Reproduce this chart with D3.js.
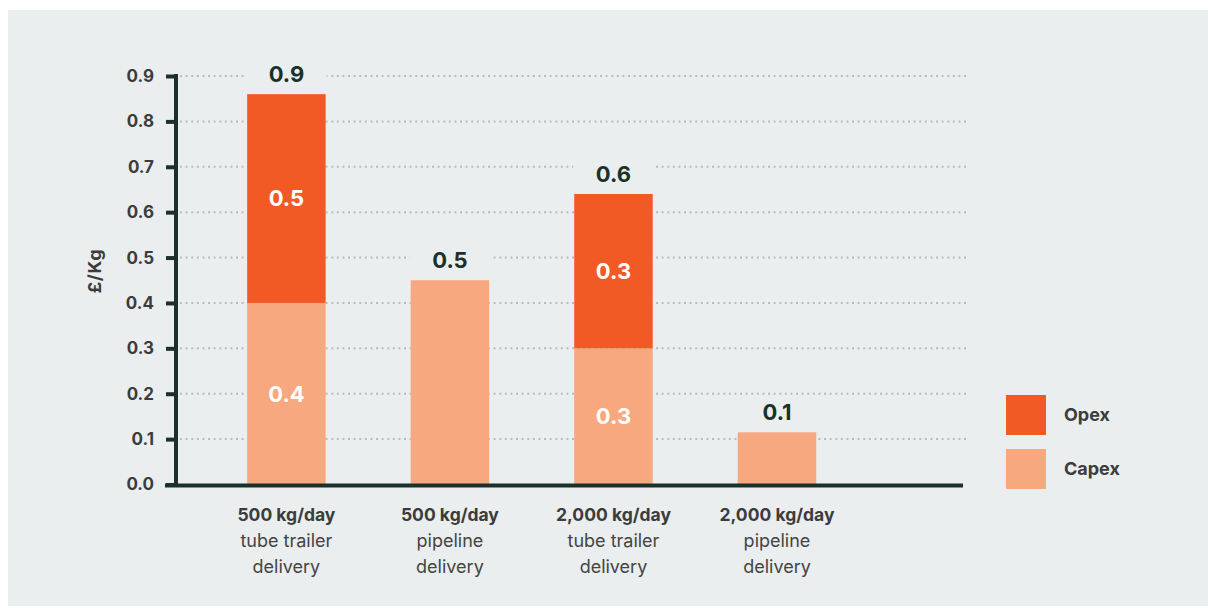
<!DOCTYPE html>
<html>
<head>
<meta charset="utf-8">
<script src="https://cdn.jsdelivr.net/npm/d3@7/dist/d3.min.js"></script>
<style>
  html, body { margin: 0; padding: 0; background: #ffffff; }
  svg { display: block; font-family: Inter, "Noto Sans", sans-serif; }
</style>
</head>
<body>
<svg id="chart" width="1208" height="608"></svg>
<script>
// ---- data ----
const categoriesBold = ["500 kg/day", "500 kg/day", "2,000 kg/day", "2,000 kg/day"];
const categoriesLine2 = ["tube trailer", "pipeline", "tube trailer", "pipeline"];
const categoriesLine3 = ["delivery", "delivery", "delivery", "delivery"];
const capex = [0.40, 0.45, 0.30, 0.115];
const opex = [0.46, 0, 0.34, 0];
const yTicks = [0.0, 0.1, 0.2, 0.3, 0.4, 0.5, 0.6, 0.7, 0.8, 0.9];
const seriesNames = ["Opex", "Capex"];
const seriesColors = ["#F15A24", "#F7A87E"];

const svg = d3.select("#chart");
const panelColor = "#EAEEEE";
const dark = "#1B302B";
const textGray = "#3C3C3C";

svg.append("rect").attr("x", 8).attr("y", 10).attr("width", 1200).attr("height", 596).attr("fill", panelColor);

const y = d3.scaleLinear().domain([0, 0.9]).range([484.5, 76]);
const idx = d3.range(categoriesBold.length);
const x = d3.scaleBand().domain(idx).range([165.4, 898]).paddingInner(0.52).paddingOuter(0.5);
const bw = x.bandwidth();
const fmt = d3.format(".1f");

// gridlines
svg.append("g").selectAll("line").data(yTicks.filter(d => d > 0)).join("line")
  .attr("x1", 180).attr("x2", 966)
  .attr("y1", d => y(d)).attr("y2", d => y(d))
  .attr("stroke", "#B9BDBD").attr("stroke-width", 2)
  .attr("stroke-dasharray", "2,3.6");

const totals = idx.map(i => capex[i] + opex[i]);

// label background (hides gridlines above bars)
svg.append("g").selectAll("rect").data(idx).join("rect")
  .attr("x", i => x(i) - 1).attr("width", bw + 2)
  .attr("y", i => y(totals[i]) - 34).attr("height", 34)
  .attr("fill", panelColor);

// capex bars
svg.append("g").selectAll("rect").data(idx).join("rect")
  .attr("x", i => x(i)).attr("width", bw)
  .attr("y", i => y(capex[i])).attr("height", i => y(0) - y(capex[i]))
  .attr("fill", seriesColors[1]);

// opex bars
svg.append("g").selectAll("rect").data(idx.filter(i => opex[i] > 0)).join("rect")
  .attr("x", i => x(i)).attr("width", bw)
  .attr("y", i => y(totals[i])).attr("height", i => y(capex[i]) - y(totals[i]))
  .attr("fill", seriesColors[0]);

// inner labels
const inner = [];
idx.forEach(i => {
  if (opex[i] > 0) {
    inner.push({ i, v: capex[i], yc: (y(0) + y(capex[i])) / 2 });
    inner.push({ i, v: opex[i], yc: (y(capex[i]) + y(totals[i])) / 2 });
  }
});
svg.append("g").selectAll("text").data(inner).join("text")
  .attr("x", d => x(d.i) + bw / 2).attr("y", d => d.yc)
  .attr("dy", "0.36em").attr("text-anchor", "middle")
  .attr("fill", "#ffffff").attr("font-weight", 700).attr("font-size", 22)
  .text(d => fmt(d.v));

// total labels
svg.append("g").selectAll("text").data(idx).join("text")
  .attr("x", i => x(i) + bw / 2).attr("y", i => y(totals[i]) - 12)
  .attr("text-anchor", "middle")
  .attr("fill", dark).attr("font-weight", 700).attr("font-size", 22)
  .text(i => fmt(totals[i]));

// y axis
const yAxis = d3.axisLeft(y).tickValues(yTicks).tickSize(10).tickPadding(12).tickFormat(fmt);
const gy = svg.append("g").attr("transform", "translate(176,0)").call(yAxis);
gy.select(".domain").remove();
gy.selectAll(".tick line").attr("stroke", dark).attr("stroke-width", 4);
gy.selectAll(".tick text").attr("fill", textGray).attr("font-weight", 700).attr("font-size", 17)
  .attr("font-family", "Inter, 'Noto Sans', sans-serif");
svg.append("line").attr("x1", 176).attr("x2", 176).attr("y1", 74).attr("y2", 486.5)
  .attr("stroke", dark).attr("stroke-width", 4);
// x axis line
svg.append("line").attr("x1", 165).attr("x2", 963).attr("y1", 485.5).attr("y2", 485.5)
  .attr("stroke", dark).attr("stroke-width", 4);

// y title
svg.append("text").attr("transform", "translate(101,271) rotate(-90)")
  .attr("text-anchor", "middle").attr("fill", textGray).attr("font-weight", 700).attr("font-size", 18)
  .attr("letter-spacing", "0.6")
  .text("£/Kg");

// x labels
const xl = svg.append("g").selectAll("text").data(idx).join("text")
  .attr("text-anchor", "middle").attr("font-size", 18).attr("fill", "#444");
xl.append("tspan").attr("x", i => x(i) + bw / 2).attr("y", 521)
  .attr("font-weight", 700).attr("font-size", 17.5).attr("fill", textGray).text(i => categoriesBold[i]);
xl.append("tspan").attr("x", i => x(i) + bw / 2).attr("y", 547).text(i => categoriesLine2[i]);
xl.append("tspan").attr("x", i => x(i) + bw / 2).attr("y", 573).text(i => categoriesLine3[i]);

// legend
const lg = svg.append("g").selectAll("g").data(seriesNames).join("g")
  .attr("transform", (d, k) => `translate(1006,${395 + k * 54})`);
lg.append("rect").attr("width", 40).attr("height", 40).attr("fill", (d, k) => seriesColors[k]);
lg.append("text").attr("x", 58).attr("y", 20).attr("dy", "0.36em")
  .attr("fill", textGray).attr("font-weight", 700).attr("font-size", 18).text(d => d);
</script>
</body>
</html>
